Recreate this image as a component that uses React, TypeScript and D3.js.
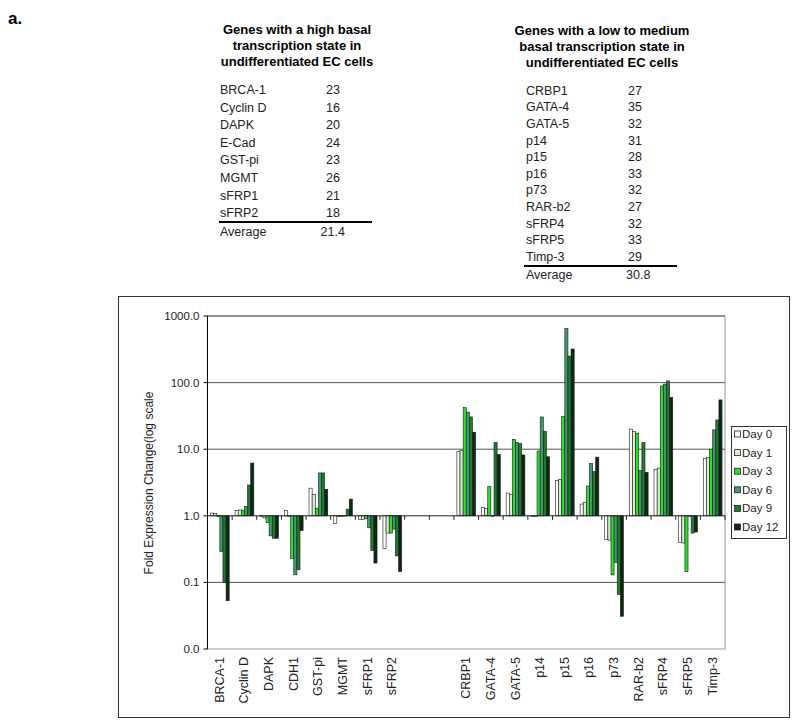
import React from "react";
import * as d3 from "d3";

const highGenes = ["BRCA-1", "Cyclin D", "DAPK", "E-Cad", "GST-pi", "MGMT", "sFRP1", "sFRP2"];
const highScores = ["23", "16", "20", "24", "23", "26", "21", "18"];
const highAverage = "21.4";
const lowGenes = ["CRBP1", "GATA-4", "GATA-5", "p14", "p15", "p16", "p73", "RAR-b2", "sFRP4", "sFRP5", "Timp-3"];
const lowScores = ["27", "35", "32", "31", "28", "33", "32", "27", "32", "33", "29"];
const lowAverage = "30.8";

const categories = ["BRCA-1", "Cyclin D", "DAPK", "CDH1", "GST-pi", "MGMT", "sFRP1", "sFRP2", "", " ",
  "CRBP1", "GATA-4", "GATA-5", "p14", "p15", "p16", "p73", "RAR-b2", "sFRP4", "sFRP5", "Timp-3"];

const seriesNames = ["Day 0", "Day 1", "Day 3", "Day 6", "Day 9", "Day 12"];
const seriesColors = ["#ffffff", "#d6f0cc", "#2edc2e", "#3c9c6c", "#1e7d2c", "#0b2a12"];

const day0 = [1.1, 1.2, 0.97, 1.2, 2.6, 0.77, 0.88, 0.32, null, null, 9.3, 1.33, 2.2, 0.97, 3.4, 1.5, 0.44, 20, 5.0, 0.4, 7.3];
const day1 = [1.08, 1.22, 0.93, 0.98, 2.1, 0.99, 0.88, 0.55, null, null, 9.6, 1.3, 2.1, 1.0, 3.5, 1.6, 0.43, 18.5, 5.2, 0.39, 7.5];
const day3 = [0.97, 1.22, 0.79, 0.23, 1.3, 1.0, 0.9, 0.55, null, null, 42, 2.75, 14, 9.4, 31, 2.8, 0.13, 17.4, 89, 0.145, 10];
const day6 = [0.29, 1.38, 0.5, 0.13, 4.4, 1.01, 0.66, 0.63, null, null, 36, 1.0, 12.6, 30.5, 650, 6.1, 0.2, 4.8, 95, 1.0, 19.5];
const day9 = [0.1, 2.9, 0.46, 0.155, 4.4, 1.26, 0.3, 0.25, null, null, 30.5, 12.6, 12.2, 18.6, 250, 4.6, 0.066, 12.6, 106, 0.55, 27.5];
const day12 = [0.053, 6.2, 0.46, 0.6, 2.5, 1.78, 0.195, 0.145, null, null, 18, 8.3, 8.2, 7.7, 320, 7.6, 0.031, 4.5, 60, 0.57, 55];

const series = [day0, day1, day3, day6, day9, day12];
const yTicks = [0.01, 0.1, 1, 10, 100, 1000];

const FONT = "Arial, 'Liberation Sans', sans-serif";

export default function App() {
  const plot = { left: 207.5, right: 725, top: 316, bottom: 649 };
  const x = d3.scaleBand<number>().domain(d3.range(categories.length)).range([plot.left, plot.right]).padding(0);
  const y = d3.scaleLog().domain([0.01, 1000]).range([plot.bottom, plot.top]);
  const bw = x.bandwidth();
  const groupW = bw * 0.76;
  const inner = d3.scaleBand<number>().domain(d3.range(series.length)).range([0, groupW]).padding(0);
  const base = y(1);

  const leftTable = { cx: 297, nameX: 220, valX: 326, rowY0: 90, step: 17.6 };
  const rightTable = { cx: 602, nameX: 526, valX: 628, rowY0: 90.7, step: 16.6 };

  return (
    <svg width={800} height={721} style={{ position: "absolute", left: 0, top: 0, background: "#fff" }} fontFamily={FONT}>
      <rect x={0} y={0} width={800} height={721} fill="#fff" />
      <text x={8} y={24} fontSize={17} fontWeight="bold">a.</text>

      {/* Left table */}
      <g>
        {["Genes with a high basal", "transcription state in", "undifferentiated EC cells"].map((t, i) => (
          <text key={t} x={leftTable.cx} y={29 + i * 16.3} textAnchor="middle" dominantBaseline="central" fontSize={13} fontWeight="bold">{t}</text>
        ))}
        {highGenes.map((g, i) => (
          <g key={g}>
            <text x={leftTable.nameX} y={leftTable.rowY0 + i * leftTable.step} dominantBaseline="central" fontSize={12.5} fill="#222">{g}</text>
            <text x={leftTable.valX} y={leftTable.rowY0 + i * leftTable.step} dominantBaseline="central" fontSize={12.5} fill="#222">{highScores[i]}</text>
          </g>
        ))}
        <line x1={219} x2={372} y1={222} y2={222} stroke="#000" strokeWidth={2.2} />
        <text x={leftTable.nameX} y={232} dominantBaseline="central" fontSize={12.5} fill="#222">Average</text>
        <text x={320.5} y={232} dominantBaseline="central" fontSize={12.5} fill="#222">{highAverage}</text>
      </g>

      {/* Right table */}
      <g>
        {["Genes with a low to medium", "basal transcription state in", "undifferentiated EC cells"].map((t, i) => (
          <text key={t} x={rightTable.cx} y={30 + i * 16} textAnchor="middle" dominantBaseline="central" fontSize={13} fontWeight="bold">{t}</text>
        ))}
        {lowGenes.map((g, i) => (
          <g key={g}>
            <text x={rightTable.nameX} y={rightTable.rowY0 + i * rightTable.step} dominantBaseline="central" fontSize={12.5} fill="#222">{g}</text>
            <text x={rightTable.valX} y={rightTable.rowY0 + i * rightTable.step} dominantBaseline="central" fontSize={12.5} fill="#222">{lowScores[i]}</text>
          </g>
        ))}
        <line x1={524} x2={677} y1={266} y2={266} stroke="#000" strokeWidth={2.2} />
        <text x={rightTable.nameX} y={275} dominantBaseline="central" fontSize={12.5} fill="#222">Average</text>
        <text x={626} y={275} dominantBaseline="central" fontSize={12.5} fill="#222">{lowAverage}</text>
      </g>

      {/* Chart frame */}
      <rect x={118.5} y={296.5} width={671} height={421} fill="#fff" stroke="#333" strokeWidth={1} />

      {/* plot area border */}
      <rect x={plot.left} y={plot.top} width={plot.right - plot.left} height={plot.bottom - plot.top} fill="none" stroke="#999" strokeWidth={1} />

      {/* gridlines */}
      {yTicks.filter((t) => t !== 1 && t !== 0.01).map((t) => (
        <line key={t} x1={plot.left} x2={plot.right} y1={y(t)} y2={y(t)} stroke="#555" strokeWidth={1} />
      ))}

      {/* bars */}
      {categories.map((c, ci) =>
        series.map((s, si) => {
          const v = s[ci];
          if (v == null) return null;
          const bx = (x(ci) as number) + (bw - groupW) / 2 + (inner(si) as number);
          const yv = y(v);
          return (
            <rect key={`${ci}-${si}`} x={bx} y={Math.min(yv, base)} width={inner.bandwidth()} height={Math.max(Math.abs(yv - base), 0.5)}
              fill={seriesColors[si]} stroke="#1a1a1a" strokeWidth={0.6} />
          );
        })
      )}

      {/* category axis at 1.0 */}
      <line x1={plot.left} x2={plot.right} y1={base} y2={base} stroke="#222" strokeWidth={1} />
      {d3.range(categories.length + 1).map((i) => {
        const xx = plot.left + i * bw;
        return <line key={i} x1={xx} x2={xx} y1={base} y2={base + 4} stroke="#222" strokeWidth={1} />;
      })}

      {/* y axis */}
      <line x1={plot.left} x2={plot.left} y1={plot.top} y2={plot.bottom} stroke="#000" strokeWidth={1} />
      {yTicks.map((t) => (
        <g key={t}>
          <line x1={plot.left - 4} x2={plot.left} y1={y(t)} y2={y(t)} stroke="#000" />
          <text x={plot.left - 8} y={y(t)} textAnchor="end" dominantBaseline="central" fontSize={11.5} fill="#222">{t.toFixed(1)}</text>
        </g>
      ))}
      <text transform={`translate(149,483) rotate(-90)`} textAnchor="middle" dominantBaseline="central" fontSize={12} fill="#222">
        Fold Expression Change(log scale
      </text>

      {/* category labels */}
      {categories.map((c, ci) => (
        c.trim() === "" ? null : (
          <text key={ci} transform={`translate(${(x(ci) as number) + bw / 2},${plot.bottom + 8}) rotate(-90)`} textAnchor="end" dominantBaseline="central" fontSize={12.5} fill="#222">{c}</text>
        )
      ))}

      {/* legend */}
      <rect x={731.5} y={426.5} width={55} height={112} fill="#fff" stroke="#333" strokeWidth={1} />
      {seriesNames.map((n, i) => (
        <g key={n}>
          <rect x={734.5} y={434 + i * 18.6 - 3} width={6} height={6} fill={seriesColors[i]} stroke="#222" strokeWidth={0.8} />
          <text x={742} y={434 + i * 18.6} dominantBaseline="central" fontSize={11.5} fill="#222">{n}</text>
        </g>
      ))}
    </svg>
  );
}
